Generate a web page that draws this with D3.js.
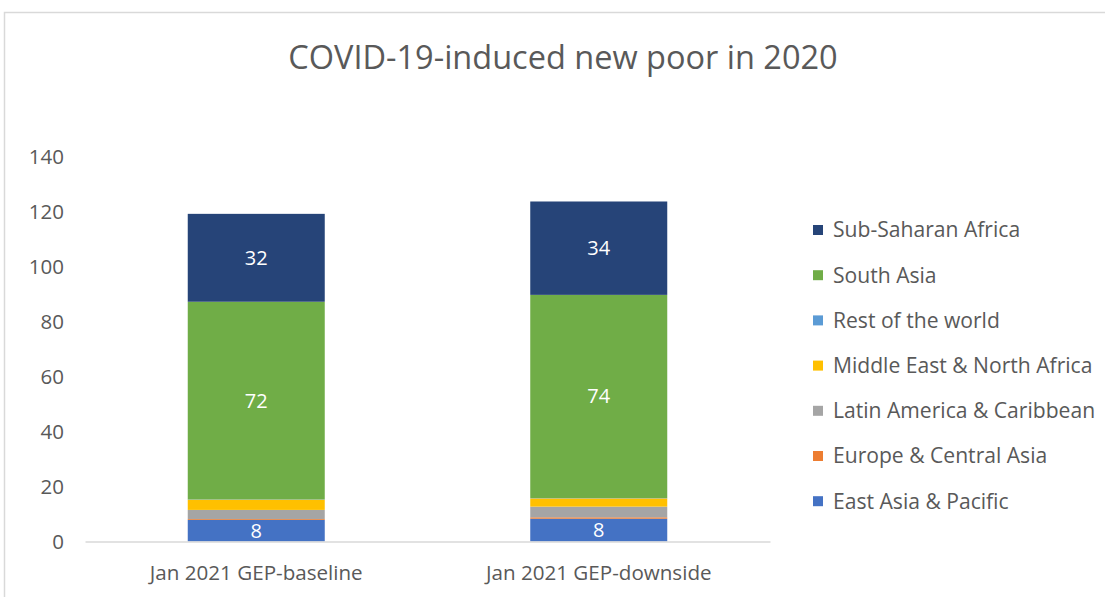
<!DOCTYPE html>
<html><head><meta charset="utf-8">
<script src="https://cdn.jsdelivr.net/npm/d3@7"></script>
<style>body{margin:0;background:#fff}svg{display:block}text{font-family:"Open Sans",sans-serif}</style>
</head><body>
<svg id="c" width="1105" height="597"></svg>
<script>
const categories = ["Jan 2021 GEP-baseline", "Jan 2021 GEP-downside"];
const seriesNames = ["East Asia & Pacific", "Europe & Central Asia", "Latin America & Caribbean", "Middle East & North Africa", "Rest of the world", "South Asia", "Sub-Saharan Africa"];
const eastAsiaPacific = [7.9, 8.3];
const europeCentralAsia = [0.3, 0.5];
const latinAmerica = [3.3, 3.9];
const middleEast = [3.7, 3.0];
const restOfWorld = [0.1, 0.1];
const southAsia = [72, 74];
const subSaharan = [32, 34];
const labelled = ["East Asia & Pacific", "South Asia", "Sub-Saharan Africa"];
const yTicks = [0, 20, 40, 60, 80, 100, 120, 140];
const colors = ["#4472c4", "#ed7d31", "#a5a5a5", "#ffc000", "#5b9bd5", "#70ad47", "#264478"];

(function () {
const values = [eastAsiaPacific, europeCentralAsia, latinAmerica, middleEast, restOfWorld, southAsia, subSaharan];
const rows = categories.map((c, i) => {
  const r = {cat: c};
  seriesNames.forEach((s, j) => r[s] = values[j][i]);
  return r;
});
const stacked = d3.stack().keys(seriesNames)(rows);

const svg = d3.select("#c");
const mLeft = 85, mRight = 770, mTop = 157, mBottom = 541.5;
svg.append("rect").attr("x", 4.5).attr("y", 12.5).attr("width", 1120).attr("height", 620)
  .attr("fill", "none").attr("stroke", "#d9d9d9").attr("stroke-width", 1.5);

svg.append("text").attr("x", 563).attr("y", 69).attr("text-anchor", "middle")
  .attr("font-size", 32.5).attr("fill", "#595959").text("COVID-19-induced new poor in 2020");

const x = d3.scaleBand().domain(categories).range([mLeft, mRight]);
const y = d3.scaleLinear().domain([0, 140]).range([mBottom, mTop]);
const barW = x.bandwidth() * 0.4;

const yAxis = svg.append("g").attr("transform", `translate(${mLeft},0)`)
  .call(d3.axisLeft(y).tickValues(yTicks).tickSize(0).tickPadding(21));
yAxis.select(".domain").remove();
yAxis.selectAll("text").attr("font-size", 20.5).attr("fill", "#595959").attr("font-family", "Open Sans");

stacked.forEach((layer, j) => {
  svg.append("g").selectAll("rect").data(layer).join("rect")
    .attr("x", d => x(d.data.cat) + x.bandwidth() / 2 - barW / 2)
    .attr("width", barW)
    .attr("y", d => y(d[1]))
    .attr("height", d => y(d[0]) - y(d[1]))
    .attr("fill", colors[j]);
  if (labelled.includes(layer.key)) {
    svg.append("g").selectAll("text").data(layer).join("text")
      .attr("x", d => x(d.data.cat) + x.bandwidth() / 2)
      .attr("y", d => (y(d[0]) + y(d[1])) / 2)
      .attr("dy", "0.35em").attr("text-anchor", "middle")
      .attr("font-size", 20).attr("fill", "#fff")
      .text(d => d3.format(".0f")(d[1] - d[0]));
  }
});

const xAxis = svg.append("g").attr("transform", `translate(0,${mBottom})`)
  .call(d3.axisBottom(x).tickSize(0).tickPadding(24));
xAxis.select(".domain").attr("stroke", "#d9d9d9").attr("stroke-width", 1.5);
xAxis.selectAll("text").attr("font-size", 20.6).attr("fill", "#595959").attr("font-family", "Open Sans");

const legendItems = seriesNames.map((s, i) => ({name: s, color: colors[i]})).reverse();
const lg = svg.append("g").selectAll("g").data(legendItems).join("g")
  .attr("transform", (d, i) => `translate(813,${230 + i * 45.2})`);
lg.append("rect").attr("x", 0).attr("y", -5).attr("width", 10).attr("height", 10).attr("fill", d => d.color);
lg.append("text").attr("x", 20).attr("dy", "0.35em").attr("font-size", 21.1).attr("fill", "#595959").text(d => d.name);
})();
</script>
</body></html>
